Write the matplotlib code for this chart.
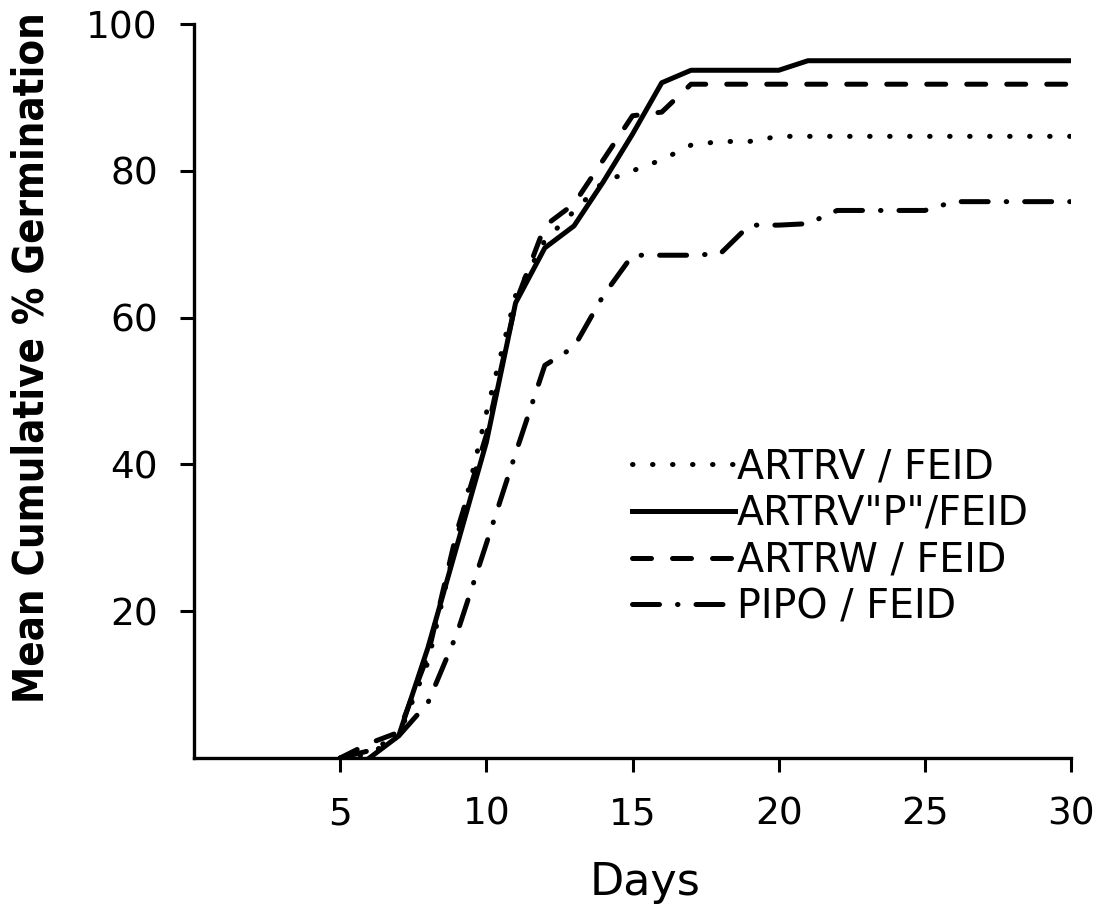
import matplotlib
matplotlib.use("Agg")
import matplotlib.pyplot as plt

# cumulative germination (%) by day for each seed lot
days = [5, 6, 7, 8, 9, 10, 11, 12, 13, 14, 15, 16, 17, 18, 19, 20, 21, 22, 23, 24, 25, 26, 27, 28, 29, 30]

artrv = [0, 0.5, 3, 13, 30, 47, 63, 70.5, 74.5, 78.5, 80, 81.5, 83.5, 84, 84, 84.7, 84.7, 84.7, 84.7, 84.7, 84.7, 84.7, 84.7, 84.7, 84.7, 84.7]
artrv_p = [None, 0, 3, 15, 29, 43, 62, 69.5, 72.5, 78.5, 85, 92, 93.7, 93.7, 93.7, 93.7, 95, 95, 95, 95, 95, 95, 95, 95, 95, 95]
artrw = [0, 2, 3.5, 14, 31, 44, 62, 72.5, 75.5, 81.5, 87.5, 88, 91.8, 91.8, 91.8, 91.8, 91.8, 91.8, 91.8, 91.8, 91.8, 91.8, 91.8, 91.8, 91.8, 91.8]
pipo = [0, 1, 3, 7.5, 17, 29.2, 41.5, 53.5, 56, 63, 68.5, 68.5, 68.5, 68.7, 72.6, 72.6, 72.8, 74.6, 74.6, 74.6, 74.6, 75.8, 75.8, 75.8, 75.8, 75.8]

labels = ["ARTRV / FEID", 'ARTRV"P"/FEID', "ARTRW / FEID", "PIPO / FEID"]
x_ticks = [5, 10, 15, 20, 25, 30]
y_ticks = [20, 40, 60, 80, 100]

fig = plt.figure(figsize=(11.06, 9.17), dpi=100)
ax = fig.add_axes([0.1754, 0.1734, 0.7930, 0.8004])

lw = 3.6
styles = [
    dict(linestyle=(0, (0.1, 3.9)), dash_capstyle="round"),
    dict(linestyle="-"),
    dict(linestyle=(0, (3.8, 4.2)), dash_capstyle="round"),
    dict(linestyle=(0, (5.4, 3.6, 0.1, 3.6)), dash_capstyle="round"),
]
series = [artrv, artrv_p, artrw, pipo]

for vals, lab, st in zip(series, labels, styles):
    xs = [d for d, v in zip(days, vals) if v is not None]
    ys = [v for v in vals if v is not None]
    ax.plot(xs, ys, color="black", linewidth=lw, label=lab, **st)

ax.set_xlim(0, 30)
ax.set_ylim(0, 100)
ax.set_xticks(x_ticks)
ax.set_yticks(y_ticks)
ax.set_xticklabels([str(t) for t in x_ticks])
ax.set_yticklabels([str(t) for t in y_ticks])

for side in ["top", "right"]:
    ax.spines[side].set_visible(False)
for side in ["left", "bottom"]:
    ax.spines[side].set_linewidth(2.4)

ax.tick_params(axis="both", direction="out", length=10, width=2.2,
               labelsize=27, colors="black")
ax.tick_params(axis="x", pad=18)
ax.tick_params(axis="y", pad=16)

ax.set_xlabel("Days", fontsize=32, va="center")
ax.xaxis.set_label_coords(0.514, -0.170)
ax.set_ylabel("Mean Cumulative % Germination", fontsize=30,
              fontweight="bold", family="DejaVu Sans", fontstretch="condensed",
              va="center")
ax.yaxis.set_label_coords(-0.185, 0.546)

leg = ax.legend(loc="lower left", bbox_to_anchor=(0.4994, 0.178), frameon=False,
                fontsize=28.5, handlelength=2.6, handletextpad=0.05,
                labelspacing=0.17, borderpad=0, borderaxespad=0)

fig.savefig("out.png", dpi=100)
